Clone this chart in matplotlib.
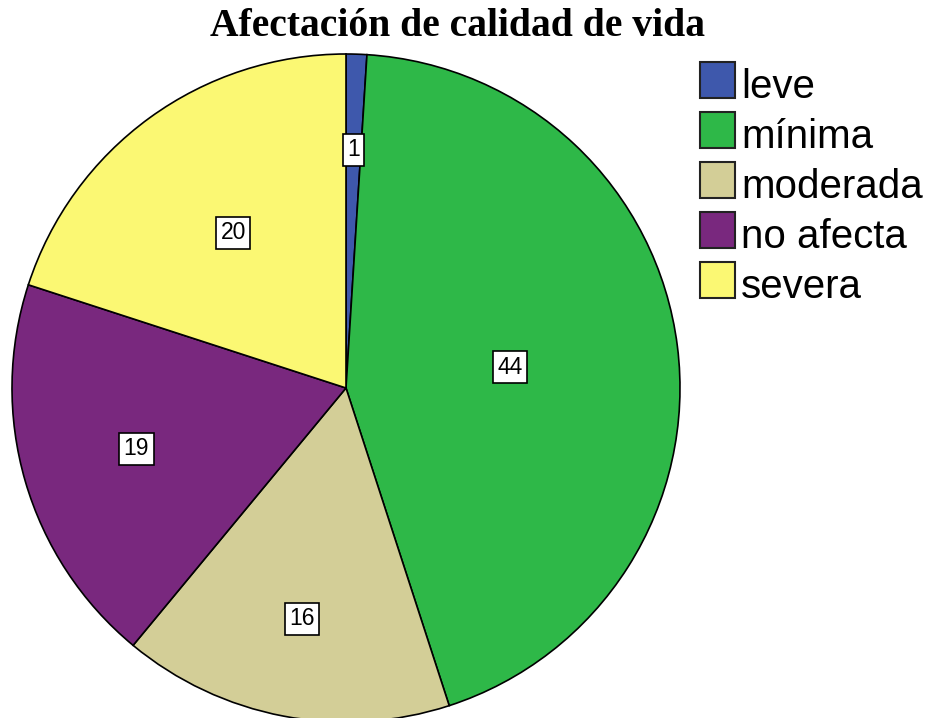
import matplotlib
matplotlib.use("Agg")
import matplotlib.pyplot as plt
import numpy as np
from matplotlib.patches import Rectangle

title = "Afectación de calidad de vida"
categories = ["leve", "mínima", "moderada", "no afecta", "severa"]
values = [1, 44, 16, 19, 20]
colors = ["#3E58AC", "#2EB848", "#D3CE97", "#79287E", "#FBF873"]
label_dist = [0.713, 0.495, 0.703, 0.654, 0.575]

W, H = 927, 718
fig = plt.figure(figsize=(W / 100, H / 100), dpi=100)

cx, cy, r = 346, 388, 334
ax = fig.add_axes([(cx - r) / W, (H - cy - r) / H, 2 * r / W, 2 * r / H])
wedges, _ = ax.pie(values, colors=colors, startangle=90, counterclock=False,
                   radius=1, wedgeprops=dict(edgecolor="black", linewidth=1.2))
ax.set_xlim(-1, 1)
ax.set_ylim(-1, 1)
ax.set_aspect("equal")
ax.axis("off")

total = sum(values)
start = 90.0
for v, d in zip(values, label_dist):
    ang = np.deg2rad(start - v / total * 360 / 2)
    start -= v / total * 360
    ax.text(d * np.cos(ang), d * np.sin(ang), str(v), ha="center", va="center",
            fontsize=16.5, family="Liberation Sans",
            bbox=dict(boxstyle="square,pad=0.2", facecolor="white", edgecolor="black", linewidth=1.2))

fig.text(457 / W, 1 - 27 / H, title, ha="center", va="center",
         fontsize=28.5, fontweight="bold", family="Liberation Serif")

for i, (cat, col) in enumerate(zip(categories, colors)):
    yc = 80 + i * 50
    fig.patches.append(Rectangle((700 / W, 1 - (yc + 18) / H), 35 / W, 36 / H,
                                 transform=fig.transFigure, facecolor=col,
                                 edgecolor="#222222", linewidth=1.5))
    fig.text(741 / W, 1 - (yc + 18) / H, cat, ha="left", va="baseline",
             fontsize=29, family="Liberation Sans")

fig.savefig("out.png", dpi=100, facecolor="white")
